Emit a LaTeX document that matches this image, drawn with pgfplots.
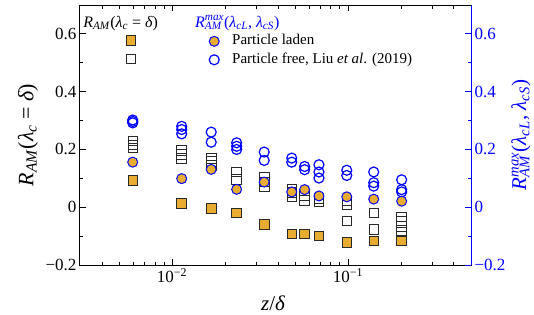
\documentclass[border=0pt]{standalone}
\usepackage{fontspec}
\setmainfont{Liberation Serif}
\usepackage{pgfplots}
\pgfplotsset{compat=1.18}
\definecolor{laden}{RGB}{232,172,48}
\definecolor{myblue}{RGB}{0,0,255}
\definecolor{sqedge}{RGB}{40,40,40}
\newcommand{\RAM}{\textit{R}\textsubscript{\textit{AM}}}
\newcommand{\RAMmax}{\textit{R}\rlap{\textsubscript{\textit{AM}}}\textsuperscript{\textit{max}}}
\begin{document}
\begin{tikzpicture}
\useasboundingbox (-80pt,-49pt) rectangle (454pt,265pt);
\begin{axis}[
  scale only axis, width=391pt, height=260pt,
  xmode=log, xmin=0.003, xmax=0.5, ymin=-0.2, ymax=0.7,
  tick align=inside,
  ytick={-0.2,0,0.2,0.4,0.6}, yticklabels={−0.2,0,0.2,0.4,0.6},
  minor ytick={-0.1,0.1,0.3,0.5},
  major tick length=6pt, minor tick length=3.5pt,
  tick label style={font=\fontsize{17}{20}\selectfont},
  tick style={line width=0.9pt, black},
  xtick pos=both, ytick pos=left,
  xtick={0.01,0.1}, xticklabels={10\textsuperscript{−2},10\textsuperscript{−1}},
  minor xtick={0.004,0.005,0.006,0.007,0.008,0.009,0.02,0.03,0.04,0.05,0.06,0.07,0.08,0.09,0.2,0.3,0.4},
  axis line style={line width=1pt, black},
  xlabel={\textit{z}/\textit{δ}},
  ylabel={\RAM(\textit{λ}\textsubscript{\textit{c}} = \textit{δ})},
  x label style={at={(axis description cs:0.494,-0.148)},anchor=center,font=\fontsize{21}{23}\selectfont},
  y label style={at={(axis description cs:-0.133,0.5)},rotate=0,anchor=center,font=\fontsize{22}{24}\selectfont},
  legend style={at={(axis description cs:0.1176,0.893)},anchor=north west,draw=none,fill=none,inner sep=0pt,row sep=3.5pt,
    nodes={inner sep=0pt, text height=11pt, text depth=4pt}},
]
\addplot[only marks, mark=square*, mark size=4.8pt, mark options={fill=laden, draw=sqedge, line width=0.8pt}]
coordinates {(0.00598,0.092)(0.01135,0.013)(0.0167,-0.005)(0.0233,-0.020)(0.0334,-0.060)(0.0479,-0.093)(0.0567,-0.093)(0.0684,-0.099)(0.0984,-0.122)(0.140,-0.116)(0.2018,-0.114)};
\addlegendentry{}
\addplot[only marks, mark=square, mark size=4.8pt, mark options={draw=sqedge, line width=0.8pt}]
coordinates {
(0.00598,0.229)(0.00598,0.216)(0.00598,0.206)
(0.01135,0.197)(0.01135,0.183)(0.01135,0.170)
(0.0167,0.170)(0.0167,0.159)(0.0167,0.145)
(0.0233,0.122)(0.0233,0.097)
(0.0334,0.105)(0.0334,0.087)(0.0334,0.070)
(0.0479,0.064)(0.0479,0.051)(0.0479,0.036)
(0.0567,0.041)(0.0567,0.024)
(0.0684,0.030)(0.0684,0.018)
(0.0984,0.024)(0.0984,0.010)(0.0984,-0.048)
(0.140,-0.020)(0.140,-0.076)
(0.2018,-0.033)(0.2018,-0.048)(0.2018,-0.066)(0.2018,-0.085)};
\addlegendentry{}
\node[anchor=base west, font=\fontsize{16}{18}\selectfont, inner sep=0pt] at (axis description cs:0.008,0.915) {\RAM(\textit{λ}\textsubscript{\textit{c}} = \textit{δ})};
\node[anchor=base west, font=\fontsize{16}{18}\selectfont, inner sep=0pt, text=myblue] at (axis description cs:0.294,0.915) {\RAMmax(\textit{λ}\textsubscript{\textit{cL}}, \textit{λ}\textsubscript{\textit{cS}})};
\end{axis}
\begin{axis}[
  scale only axis, width=391pt, height=260pt,
  xmode=log, xmin=0.003, xmax=0.5, ymin=-0.2, ymax=0.7,
  tick align=inside,
  ytick={-0.2,0,0.2,0.4,0.6}, yticklabels={−0.2,0,0.2,0.4,0.6},
  minor ytick={-0.1,0.1,0.3,0.5},
  major tick length=6pt, minor tick length=3.5pt,
  tick label style={font=\fontsize{17}{20}\selectfont},
  axis x line=none, axis y line*=right,
  y axis line style={line width=1pt, myblue},
  tick style={line width=0.9pt, myblue},
  yticklabel style={text=myblue},
  ylabel={\RAMmax(\textit{λ}\textsubscript{\textit{cL}}, \textit{λ}\textsubscript{\textit{cS}})},
  y label style={at={(axis description cs:1.128,0.5)},rotate=0,anchor=center,font=\fontsize{21}{23}\selectfont,text=myblue},
  legend style={at={(axis description cs:0.3300,0.890)},anchor=north west,draw=none,fill=none,inner sep=0pt,row sep=3.5pt,
    font=\fontsize{15}{18}\selectfont,
    nodes={inner sep=0pt, text height=11pt, text depth=4pt},
    /tikz/every odd column/.append style={column sep=13pt}},
  legend cell align=left,
]
\addlegendimage{only marks, mark=*, mark size=5pt, mark options={fill=laden, draw=myblue, line width=1pt}}
\addlegendentry{Particle laden}
\addlegendimage{only marks, mark=o, mark size=5pt, mark options={draw=myblue, line width=1.2pt}}
\addlegendentry{Particle free, Liu \textit{et al}. (2019)}
\addplot[forget plot, only marks, mark=o, mark size=5pt, mark options={draw=myblue, line width=1.2pt}]
coordinates {
(0.00598,0.302)(0.00598,0.297)(0.00598,0.292)
(0.01135,0.280)(0.01135,0.269)(0.01135,0.254)
(0.0167,0.260)(0.0167,0.225)
(0.0233,0.223)(0.0233,0.211)(0.0233,0.200)
(0.0334,0.191)(0.0334,0.162)
(0.0479,0.170)(0.0479,0.156)
(0.0567,0.141)(0.0567,0.130)
(0.0684,0.147)(0.0684,0.122)(0.0684,0.101)
(0.0984,0.128)(0.0984,0.110)
(0.140,0.122)(0.140,0.085)(0.140,0.073)
(0.2018,0.095)(0.2018,0.061)(0.2018,0.053)};
\addplot[forget plot, only marks, mark=*, mark size=5pt, mark options={fill=laden, draw=myblue, line width=1pt}]
coordinates {(0.00598,0.156)(0.01135,0.099)(0.0167,0.131)(0.0233,0.062)(0.0334,0.087)(0.0479,0.053)(0.0567,0.061)(0.0684,0.039)(0.0984,0.036)(0.140,0.028)(0.2018,0.021)};
\end{axis}
\end{tikzpicture}
\end{document}
